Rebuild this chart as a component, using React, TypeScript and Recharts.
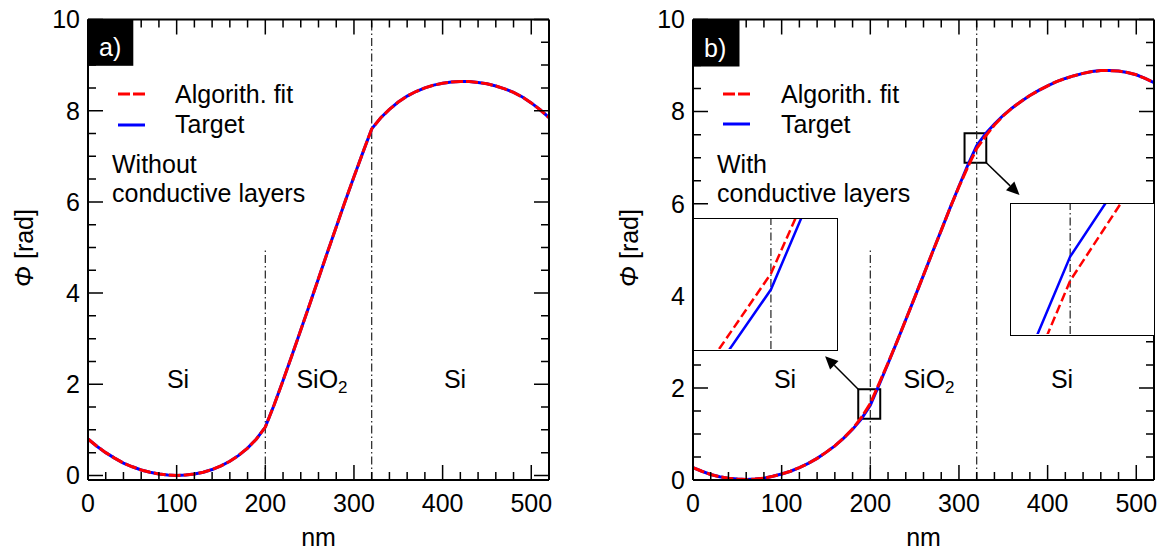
import React from "react";
import { LineChart, Line, XAxis, YAxis, ReferenceLine, ReferenceArea } from "recharts";

const FONT = '"Liberation Sans", Arial, Helvetica, sans-serif';

// depth in nm, 10 nm steps
const nm = [
  0, 10, 20, 30, 40, 50, 60, 70, 80, 90, 100, 110, 120, 130, 140, 150, 160, 170, 180, 190, 200,
  210, 220, 230, 240, 250, 260, 270, 280, 290, 300, 310, 320, 330, 340, 350, 360, 370, 380, 390,
  400, 410, 420, 430, 440, 450, 460, 470, 480, 490, 500, 510, 520,
];

// a) without conductive layers
const targetA = [
  0.8, 0.64, 0.5, 0.38, 0.27, 0.19, 0.12, 0.07, 0.03, 0.01, 0.0, 0.01, 0.03, 0.07, 0.13, 0.21, 0.31,
  0.44, 0.6, 0.8, 1.06, 1.55, 2.08, 2.63, 3.19, 3.75, 4.32, 4.89, 5.45, 6.01, 6.55, 7.08, 7.6, 7.84,
  8.03, 8.19, 8.32, 8.42, 8.5, 8.56, 8.6, 8.63, 8.64, 8.64, 8.62, 8.59, 8.54, 8.48, 8.4, 8.3, 8.17,
  8.02, 7.85,
];
const fitA = [
  0.8, 0.64, 0.5, 0.38, 0.27, 0.19, 0.12, 0.07, 0.03, 0.01, 0.0, 0.01, 0.03, 0.07, 0.13, 0.21, 0.31,
  0.44, 0.6, 0.8, 1.06, 1.55, 2.08, 2.63, 3.19, 3.75, 4.32, 4.89, 5.45, 6.01, 6.55, 7.08, 7.6, 7.84,
  8.03, 8.19, 8.32, 8.42, 8.5, 8.56, 8.6, 8.63, 8.64, 8.64, 8.62, 8.59, 8.54, 8.48, 8.4, 8.3, 8.17,
  8.02, 7.85,
];

// b) with conductive layers
const targetB = [
  0.27, 0.19, 0.12, 0.07, 0.04, 0.02, 0.01, 0.02, 0.04, 0.08, 0.13, 0.19, 0.27, 0.36, 0.47, 0.6,
  0.74, 0.91, 1.1, 1.33, 1.62, 2.07, 2.53, 3.0, 3.48, 3.96, 4.45, 4.94, 5.42, 5.91, 6.38, 6.84, 7.26,
  7.52, 7.73, 7.92, 8.08, 8.22, 8.35, 8.46, 8.56, 8.65, 8.72, 8.78, 8.83, 8.87, 8.89, 8.89, 8.88,
  8.85, 8.8, 8.72, 8.63,
];
const fitB = [
  0.27, 0.19, 0.12, 0.07, 0.04, 0.02, 0.01, 0.02, 0.04, 0.08, 0.13, 0.19, 0.27, 0.36, 0.47, 0.6,
  0.74, 0.91, 1.11, 1.36, 1.66, 2.1, 2.54, 3.0, 3.48, 3.96, 4.45, 4.94, 5.42, 5.91, 6.37, 6.8, 7.2,
  7.47, 7.71, 7.91, 8.08, 8.22, 8.35, 8.46, 8.56, 8.65, 8.72, 8.78, 8.83, 8.87, 8.89, 8.89, 8.88,
  8.85, 8.8, 8.72, 8.63,
];

// zoomed insets of panel b
const insetLeftNm = [190, 200, 210];
const insetLeftTarget = [1.204, 1.618, 2.293];
const insetLeftFit = [1.278, 1.695, 2.341];
const insetRightNm = [310, 320, 330];
const insetRightTarget = [6.603, 7.263, 7.682];
const insetRightFit = [6.492, 7.15, 7.574];

const xMajor = [0, 100, 200, 300, 400, 500];
const xMinor = [
  20, 40, 60, 80, 120, 140, 160, 180, 220, 240, 260, 280, 320, 340, 360, 380, 420, 440, 460, 480,
];
const yMajor = [0, 2, 4, 6, 8, 10];
const yMinor = [0.5, 1, 1.5, 2.5, 3, 3.5, 4.5, 5, 5.5, 6.5, 7, 7.5, 8.5, 9, 9.5];

const dataA = nm.map((x, i) => ({ x, target: targetA[i], fit: fitA[i] }));
const dataB = nm.map((x, i) => ({ x, target: targetB[i], fit: fitB[i] }));
const insetLeftData = insetLeftNm.map((x, i) => ({ x, target: insetLeftTarget[i], fit: insetLeftFit[i] }));
const insetRightData = insetRightNm.map((x, i) => ({ x, target: insetRightTarget[i], fit: insetRightFit[i] }));

const RED = "#ff0000";
const BLUE = "#0000ff";
const XD = [0, 520];
const MAJOR = 15;
const MINOR = 8;
const axisStroke = { stroke: "#000", strokeWidth: 2 };
const tickFont = { fontSize: 25, fill: "#000", fontFamily: FONT };

// plot boxes (page pixels) of the two panels, same as the chart margins below
const boxA = { left: 88, right: 549, top: 19.5, bottom: 480, yd: [-0.1, 10] };
const boxB = { left: 693, right: 1154, top: 19.5, bottom: 480, yd: [0, 10] };

// inward tick marks on all four sides of a panel frame
function TickMarks({ box }: { box: typeof boxA }) {
  const sx = (v: number) => box.left + ((v - XD[0]) / (XD[1] - XD[0])) * (box.right - box.left);
  const sy = (v: number) => box.bottom - ((v - box.yd[0]) / (box.yd[1] - box.yd[0])) * (box.bottom - box.top);
  let d = "";
  const xs = [...xMajor.map((v) => [v, MAJOR]), ...xMinor.map((v) => [v, MINOR])];
  const ys = [...yMajor.map((v) => [v, MAJOR]), ...yMinor.map((v) => [v, MINOR])];
  xs.forEach(([v, len]) => {
    const x = sx(v);
    d += `M${x},${box.bottom}v${-len}M${x},${box.top}v${len}`;
  });
  ys.forEach(([v, len]) => {
    const y = sy(v);
    d += `M${box.left},${y}h${len}M${box.right},${y}h${-len}`;
  });
  return <path d={d} stroke="#000" strokeWidth={1.5} fill="none" />;
}

function frame(yd: number[]) {
  return (
    <>
      <XAxis xAxisId="b" type="number" dataKey="x" domain={XD} allowDataOverflow ticks={xMajor} interval={0}
        height={1} tickSize={0} tickMargin={14} tick={tickFont} tickLine={false} axisLine={axisStroke} />
      <XAxis xAxisId="t" orientation="top" type="number" dataKey="x" domain={XD} allowDataOverflow
        height={1} tick={false} tickLine={false} axisLine={axisStroke} />
      <YAxis yAxisId="l" type="number" domain={yd} allowDataOverflow ticks={yMajor} interval={0}
        width={1} tickSize={0} tickMargin={8} tick={tickFont} tickLine={false} axisLine={axisStroke} />
      <YAxis yAxisId="r" orientation="right" type="number" domain={yd} allowDataOverflow
        width={1} tick={false} tickLine={false} axisLine={axisStroke} />
    </>
  );
}

function series(dash: string, width: number) {
  return (
    <>
      <Line xAxisId="b" yAxisId="l" type="linear" dataKey="target" stroke={BLUE} strokeWidth={width}
        dot={false} activeDot={false} isAnimationActive={false} />
      <Line xAxisId="b" yAxisId="l" type="linear" dataKey="fit" stroke={RED} strokeWidth={width}
        strokeDasharray={dash} dot={false} activeDot={false} isAnimationActive={false} />
    </>
  );
}

const dashDot = { stroke: "#222", strokeWidth: 1.2, strokeDasharray: "8 3 1.5 3" };

const arrowShape = (props: any) => {
  const { x1, y1, x2, y2 } = props;
  const a = Math.atan2(y2 - y1, x2 - x1);
  const L = 13;
  const W = 6;
  const bx = x2 - L * Math.cos(a);
  const by = y2 - L * Math.sin(a);
  const px = -Math.sin(a) * W;
  const py = Math.cos(a) * W;
  return (
    <g>
      <line x1={x1} y1={y1} x2={bx} y2={by} stroke="#000" strokeWidth={1.5} />
      <polygon points={`${x2},${y2} ${bx + px},${by + py} ${bx - px},${by - py}`} fill="#000" />
    </g>
  );
};

function Inset({ data, xd, yd, line, left, top, w, h }: any) {
  return (
    <div style={{ position: "absolute", left, top, width: w, height: h, border: "1.5px solid #000",
      boxSizing: "border-box", background: "#fff" }}>
      <LineChart width={w - 3} height={h - 3} data={data} margin={{ top: 0, right: 0, bottom: 0, left: 0 }}>
        <XAxis xAxisId="b" type="number" dataKey="x" domain={xd} allowDataOverflow hide />
        <YAxis yAxisId="l" type="number" domain={yd} allowDataOverflow hide />
        <ReferenceLine xAxisId="b" yAxisId="l" x={line} {...dashDot} />
        {series("9 4", 2.5)}
      </LineChart>
    </div>
  );
}

function Label({ x, y, children, anchor = "start", size = 25, fill = "#000" }: any) {
  return (
    <text x={x} y={y} textAnchor={anchor} fontSize={size} fill={fill} fontFamily={FONT}>
      {children}
    </text>
  );
}

function SiO2({ x, y }: { x: number; y: number }) {
  return (
    <text x={x} y={y} textAnchor="middle" fontSize={25} fontFamily={FONT} fill="#000">
      SiO<tspan fontSize={17} dy={5}>2</tspan>
    </text>
  );
}

export default function App() {
  return (
    <div style={{ position: "fixed", left: 0, top: 0, width: 1163, height: 551, background: "#fff",
      fontFamily: FONT, overflow: "hidden" }}>
      <div style={{ position: "absolute", left: 0, top: 0 }}>
        <LineChart width={580} height={551} data={dataA} margin={{ top: 18.5, left: 87, right: 30, bottom: 70 }}>
          {frame(boxA.yd)}
          <ReferenceLine xAxisId="b" yAxisId="l" segment={[{ x: 200, y: -0.1 }, { x: 200, y: 5 }]} {...dashDot} />
          <ReferenceLine xAxisId="b" yAxisId="l" x={320} {...dashDot} />
          {series("12 3", 3)}
        </LineChart>
      </div>
      <div style={{ position: "absolute", left: 600, top: 0 }}>
        <LineChart width={563} height={551} data={dataB} margin={{ top: 18.5, left: 92, right: 8, bottom: 70 }}>
          {frame(boxB.yd)}
          <ReferenceLine xAxisId="b" yAxisId="l" segment={[{ x: 200, y: 0 }, { x: 200, y: 5 }]} {...dashDot} />
          <ReferenceLine xAxisId="b" yAxisId="l" x={320} {...dashDot} />
          {series("12 3", 3)}
          <ReferenceArea xAxisId="b" yAxisId="l" x1={186.4} x2={211.2} y1={1.33} y2={1.97}
            fill="none" stroke="#000" strokeWidth={2} />
          <ReferenceArea xAxisId="b" yAxisId="l" x1={306.3} x2={330.8} y1={6.89} y2={7.53}
            fill="none" stroke="#000" strokeWidth={2} />
          <ReferenceLine xAxisId="b" yAxisId="l" segment={[{ x: 186.4, y: 1.97 }, { x: 149, y: 2.69 }]}
            shape={arrowShape} />
          <ReferenceLine xAxisId="b" yAxisId="l" segment={[{ x: 330.8, y: 6.89 }, { x: 368.3, y: 6.19 }]}
            shape={arrowShape} />
        </LineChart>
      </div>

      <svg width={1163} height={551} style={{ position: "absolute", left: 0, top: 0, pointerEvents: "none" }}>
        <TickMarks box={boxA} />
        <TickMarks box={boxB} />
      </svg>

      <Inset data={insetLeftData} xd={[187, 211]} yd={[1.33, 1.96]} line={200} left={693} top={218} w={145} h={133} />
      <Inset data={insetRightData} xd={[310, 334]} yd={[6.9, 7.51]} line={320} left={1010} top={203} w={145} h={133} />

      <svg width={1163} height={551} style={{ position: "absolute", left: 0, top: 0, pointerEvents: "none" }}>
        {/* panel tags */}
        <rect x={87.3} y={19.3} width={46} height={46.5} fill="#000" />
        <Label x={99} y={56} fill="#fff">a)</Label>
        <rect x={693} y={19.5} width={46.5} height={47} fill="#000" />
        <Label x={704} y={57} fill="#fff">b)</Label>

        {/* legends */}
        <line x1={118} y1={94} x2={145} y2={94} stroke={RED} strokeWidth={3} strokeDasharray="12 3" />
        <line x1={118} y1={125} x2={145} y2={125} stroke={BLUE} strokeWidth={3} />
        <Label x={175} y={103}>Algorith. fit</Label>
        <Label x={175} y={133}>Target</Label>
        <Label x={112} y={173}>Without</Label>
        <Label x={112} y={202}>conductive layers</Label>

        <line x1={723} y1={94} x2={750} y2={94} stroke={RED} strokeWidth={3} strokeDasharray="12 3" />
        <line x1={723} y1={124} x2={750} y2={124} stroke={BLUE} strokeWidth={3} />
        <Label x={781} y={103}>Algorith. fit</Label>
        <Label x={781} y={133}>Target</Label>
        <Label x={717} y={173}>With</Label>
        <Label x={717} y={202}>conductive layers</Label>

        {/* layer names */}
        <Label x={178} y={388} anchor="middle">Si</Label>
        <SiO2 x={322} y={388} />
        <Label x={455} y={388} anchor="middle">Si</Label>
        <Label x={785} y={388} anchor="middle">Si</Label>
        <SiO2 x={929} y={388} />
        <Label x={1062} y={388} anchor="middle">Si</Label>

        {/* axis titles */}
        <Label x={318.5} y={546} anchor="middle">nm</Label>
        <Label x={923.5} y={546} anchor="middle">nm</Label>
        <text transform="translate(33,248) rotate(-90)" textAnchor="middle" fontSize={25} fontFamily={FONT}>
          <tspan fontStyle="italic">Φ</tspan> [rad]
        </text>
        <text transform="translate(638,248) rotate(-90)" textAnchor="middle" fontSize={25} fontFamily={FONT}>
          <tspan fontStyle="italic">Φ</tspan> [rad]
        </text>
      </svg>
    </div>
  );
}
